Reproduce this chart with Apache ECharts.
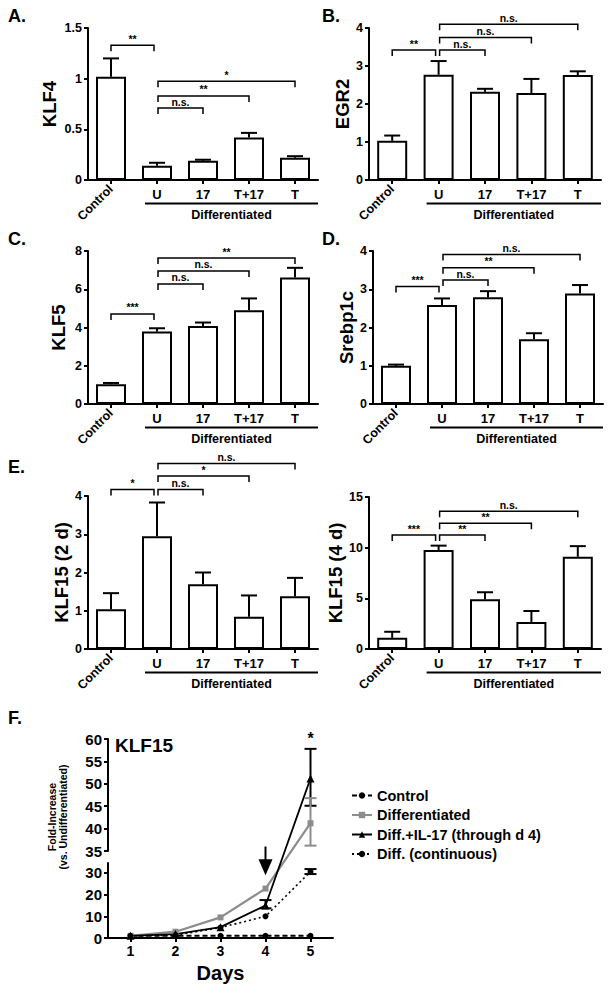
<!DOCTYPE html>
<html><head><meta charset="utf-8">
<script src="https://cdn.jsdelivr.net/npm/echarts@6/dist/echarts.min.js"></script>
<style>html,body{margin:0;padding:0;background:#fff}#c{width:612px;height:994px}</style>
</head><body><div id="c"></div>
<script>
// ---------- DATA ----------
const categories = ['Control', 'U', '17', 'T+17', 'T'];
const klf4Mean = [1.02, 0.14, 0.19, 0.42, 0.22];
const klf4Err  = [1.20, 0.17, 0.20, 0.465, 0.235];
const egr2Mean = [1.03, 2.77, 2.32, 2.29, 2.76];
const egr2Err  = [1.17, 3.13, 2.40, 2.66, 2.86];
const klf5Mean = [1.03, 3.79, 4.08, 4.90, 6.61];
const klf5Err  = [1.10, 3.96, 4.26, 5.52, 7.12];
const srebpMean = [1.00, 2.59, 2.79, 1.69, 2.89];
const srebpErr  = [1.03, 2.76, 2.95, 1.85, 3.11];
const klf15d2Mean = [1.04, 2.95, 1.69, 0.84, 1.38];
const klf15d2Err  = [1.46, 3.83, 2.00, 1.40, 1.86];
const klf15d4Mean = [1.10, 9.77, 4.90, 2.67, 9.10];
const klf15d4Err  = [1.70, 10.20, 5.60, 3.75, 10.15];

// brackets: [fromCat, toCat, y, label]
const klf4Sig = [[0,1,1.33,'**'],[1,2,0.71,'n.s.'],[1,3,0.83,'**'],[1,4,0.975,'*']];
const egr2Sig = [[0,1,3.42,'**'],[1,2,3.42,'n.s.'],[1,3,3.75,'n.s.'],[1,4,4.1,'n.s.']];
const klf5Sig = [[0,1,4.71,'***'],[1,2,6.28,'n.s.'],[1,3,6.96,'n.s.'],[1,4,7.63,'**']];
const srebpSig = [[0,1,3.07,'***'],[1,2,3.24,'n.s.'],[1,3,3.56,'**'],[1,4,3.91,'n.s.']];
const klf15d2Sig = [[0,1,4.17,'*'],[1,2,4.17,'n.s.'],[1,3,4.52,'*'],[1,4,4.85,'n.s.']];
const klf15d4Sig = [[0,1,11.25,'***'],[1,2,11.25,'**'],[1,3,12.4,'**'],[1,4,13.6,'n.s.']];

// Panel F
const fDays = [1, 2, 3, 4, 5];
const fControl = [1, 1, 1, 1, 1];
const fDiff = [1, 2.9, 9.5, 22.8, 41.2];
const fIL17 = [1, 1.8, 5, 15, 51.2];
const fCont = [1, 1.3, 4.8, 10, 30.6];
const fErrBars = [[4, 13.7, 17.5, 'k'], [5, 45.1, 57.8, 'k'], [5, 36.2, 46.8, 'g'], [5, 29.5, 31.8, 'k']];
const fStar = [5, 60.2, '*'];
const fArrow = [4, 36, 29];

// ---------- STYLE / LAYOUT ----------
const FONT = '"Liberation Sans", Arial, sans-serif';
const BLACK = '#000';
const GRAY = '#8c8c8c';

const panels = [
  {letter:'A.', lx:8, ly:7, name:'KLF4', gap:29, left:88, top:28, width:230, height:152, max:1.5, interval:0.5, mean:klf4Mean, err:klf4Err, sig:klf4Sig},
  {letter:'B.', lx:322, ly:7, name:'EGR2', gap:17, left:369, top:28, width:232, height:152, max:4, interval:1, mean:egr2Mean, err:egr2Err, sig:egr2Sig},
  {letter:'C.', lx:8, ly:230, name:'KLF5', gap:20, left:88, top:251, width:230, height:153, max:8, interval:2, mean:klf5Mean, err:klf5Err, sig:klf5Sig},
  {letter:'D.', lx:322, ly:230, name:'Srebp1c', gap:14, left:373, top:251, width:230, height:153, max:4, interval:1, mean:srebpMean, err:srebpErr, sig:srebpSig},
  {letter:'E.', lx:8, ly:458, name:'KLF15 (2 d)', gap:17, left:88, top:496, width:230, height:153, max:4, interval:1, mean:klf15d2Mean, err:klf15d2Err, sig:klf15d2Sig},
  {letter:null, name:'KLF15 (4 d)', gap:17, left:369, top:497, width:232, height:152, max:15, interval:5, mean:klf15d4Mean, err:klf15d4Err, sig:klf15d4Sig}
];

const FL = {left:108, width:225, upTop:739, upH:112, lowTop:863, lowH:75, lowMax:34.6, upMin:35, upMax:60};
const FGAP = FL.lowTop - (FL.upTop + FL.upH);
const FTOTAL = FL.lowH + FGAP + FL.upH;
function brokenY(v) {
  if (v <= FL.lowMax) return v / FL.lowMax * FL.lowH;
  return FL.lowH + FGAP + (v - FL.upMin) / (FL.upMax - FL.upMin) * FL.upH;
}

const grid = [], xAxis = [], yAxis = [], series = [], graphic = [];

const axisLineStyle = {show:true, lineStyle:{color:BLACK, width:2}};
const tickStyle = {show:true, length:4, lineStyle:{color:BLACK, width:2}};

panels.forEach((p, i) => {
  grid.push({left:p.left, top:p.top, width:p.width, height:p.height, containLabel:false});
  const xi = xAxis.length;
  xAxis.push({
    type:'category', gridIndex:i, data:categories, position:'bottom',
    axisLine:axisLineStyle, axisTick:{...tickStyle, alignWithLabel:true},
    axisLabel:{interval:0, margin:8, color:BLACK, fontWeight:'bold', fontSize:13, fontFamily:FONT,
      formatter:(v)=> v === 'Control' ? '' : v}
  });
  xAxis.push({
    type:'category', gridIndex:i, data:categories, position:'bottom',
    axisLine:{show:false}, axisTick:{show:false},
    axisLabel:{interval:0, margin:7, rotate:45, color:BLACK, fontWeight:'bold', fontSize:12.5, fontFamily:FONT,
      formatter:(v)=> v === 'Control' ? v : ''}
  });
  yAxis.push({
    type:'value', gridIndex:i, min:0, max:p.max, interval:p.interval,
    axisLine:axisLineStyle, axisTick:tickStyle, splitLine:{show:false},
    axisLabel:{margin:6, color:BLACK, fontWeight:'bold', fontSize:12.5, fontFamily:FONT},
    name:p.name, nameLocation:'middle', nameRotate:90, nameGap:p.gap,
    nameTextStyle:{color:BLACK, fontWeight:'bold', fontSize:18.5, fontFamily:FONT}
  });
  series.push({
    type:'bar', name:p.name, xAxisIndex:xi, yAxisIndex:i, data:p.mean, barWidth:30,
    itemStyle:{color:'#fff', borderColor:BLACK, borderWidth:2}, z:2, silent:true
  });
  series.push({
    type:'custom', xAxisIndex:xi, yAxisIndex:i, z:3, silent:true,
    data:p.err.map((e, j) => [j, p.mean[j], e]),
    renderItem:(params, api) => {
      const x = api.value(0);
      const p0 = api.coord([x, api.value(1)]), p1 = api.coord([x, api.value(2)]);
      return {type:'group', children:[
        {type:'line', shape:{x1:p0[0], y1:p0[1], x2:p1[0], y2:p1[1]}, style:{stroke:BLACK, lineWidth:2}},
        {type:'line', shape:{x1:p1[0]-8, y1:p1[1], x2:p1[0]+8, y2:p1[1]}, style:{stroke:BLACK, lineWidth:2}}
      ]};
    }
  });
  const sig = p.sig;
  series.push({
    type:'custom', xAxisIndex:xi, yAxisIndex:i, z:4, silent:true, clip:false,
    data:sig.map(b => [b[0], b[2]]),
    renderItem:(params, api) => {
      const b = sig[params.dataIndex];
      const a = api.coord([b[0], b[2]]), c = api.coord([b[1], b[2]]);
      const x1 = a[0] + (b[0] === 1 ? 1 : 0), x2 = c[0] - (b[1] === 1 ? 3 : 0), y = a[1];
      return {type:'group', children:[
        {type:'polyline', shape:{points:[[x1, y+6], [x1, y], [x2, y], [x2, y+6]]}, style:{stroke:BLACK, lineWidth:1.5, fill:'none'}},
        {type:'text', x:(x1+x2)/2, y:y-1, style:{text:b[3], fill:BLACK, font:'bold 10.5px ' + FONT, align:'center', verticalAlign:'bottom'}}
      ]};
    }
  });
  series.push({
    type:'custom', xAxisIndex:xi, yAxisIndex:i, z:4, silent:true, clip:false,
    data:[[1, 0]],
    renderItem:(params, api) => {
      const u = api.coord([1, 0]), t = api.coord([categories.length - 1, 0]);
      const band = api.size([1, 0])[0];
      const y = u[1] + 23.5, x1 = u[0] - 12, x2 = t[0] + band / 2;
      return {type:'group', children:[
        {type:'line', shape:{x1:x1, y1:y, x2:x2, y2:y}, style:{stroke:BLACK, lineWidth:2}},
        {type:'text', x:(x1+x2)/2, y:y+11, style:{text:'Differentiated', fill:BLACK, font:'bold 12.5px ' + FONT, align:'center', verticalAlign:'middle'}}
      ]};
    }
  });
  if (p.letter) graphic.push({type:'text', x:p.lx, y:p.ly, style:{text:p.letter, fill:BLACK, font:'bold 18px ' + FONT, verticalAlign:'top'}});
});

// ---------- Panel F ----------
const gUp = grid.length;
grid.push({left:FL.left, top:FL.upTop, width:FL.width, height:FL.upH});
const gLow = grid.length;
grid.push({left:FL.left, top:FL.lowTop, width:FL.width, height:FL.lowH});
const gLine = grid.length;
grid.push({left:FL.left, top:FL.upTop, width:FL.width, height:FTOTAL});

xAxis.push({type:'value', gridIndex:gUp, min:0.5, max:5.5, show:false});
xAxis.push({type:'value', gridIndex:gLow, min:0.5, max:5.5,
  axisLine:axisLineStyle, axisTick:{...tickStyle, customValues:fDays}, splitLine:{show:false},
  axisLabel:{customValues:fDays, margin:6, color:BLACK, fontWeight:'bold', fontSize:14, fontFamily:FONT},
  name:'Days', nameLocation:'middle', nameGap:25,
  nameTextStyle:{color:BLACK, fontWeight:'bold', fontSize:20, fontFamily:FONT, verticalAlign:'top'}});
const xLine = xAxis.length;
xAxis.push({type:'value', gridIndex:gLine, min:0.5, max:5.5, show:false});

yAxis.push({type:'value', gridIndex:gUp, min:FL.upMin, max:FL.upMax, interval:5,
  axisLine:axisLineStyle, axisTick:tickStyle, splitLine:{show:false},
  axisLabel:{margin:6, color:BLACK, fontWeight:'bold', fontSize:15, fontFamily:FONT}});
yAxis.push({type:'value', gridIndex:gLow, min:0, max:FL.lowMax, interval:10,
  axisLine:axisLineStyle, axisTick:tickStyle, splitLine:{show:false},
  axisLabel:{margin:6, showMaxLabel:false, color:BLACK, fontWeight:'bold', fontSize:15, fontFamily:FONT}});
const yLine = yAxis.length;
yAxis.push({type:'value', gridIndex:gLine, min:0, max:FTOTAL, show:false});

function fSeries(name, vals, color, lineType, lineWidth, symbol, size) {
  return {type:'line', name:name, xAxisIndex:xLine, yAxisIndex:yLine, z:5, silent:true,
    data:fDays.map((d, k) => [d, brokenY(vals[k])]),
    symbol:symbol, symbolSize:size, clip:false,
    lineStyle:{color:color, type:lineType, width:lineWidth},
    itemStyle:{color:color, borderWidth:0}};
}
series.push(fSeries('Control', fControl, BLACK, [5, 3], 2, 'circle', 6));
series.push(fSeries('Differentiated', fDiff, GRAY, 'solid', 2.2, 'rect', 6));
series.push(fSeries('Diff.+IL-17 (through d 4)', fIL17, BLACK, 'solid', 1.8, 'triangle', 8));
series.push(fSeries('Diff. (continuous)', fCont, BLACK, [2, 3], 1.6, 'circle', 6));

series.push({type:'custom', xAxisIndex:xLine, yAxisIndex:yLine, z:6, silent:true, clip:false,
  data:fErrBars.map(e => [e[0], brokenY(e[1]), brokenY(e[2])]),
  renderItem:(params, api) => {
    const col = fErrBars[params.dataIndex][3] === 'g' ? GRAY : BLACK;
    const x = api.value(0);
    const lo = api.coord([x, api.value(1)]), hi = api.coord([x, api.value(2)]);
    return {type:'group', children:[
      {type:'line', shape:{x1:lo[0], y1:lo[1], x2:hi[0], y2:hi[1]}, style:{stroke:col, lineWidth:2}},
      {type:'line', shape:{x1:lo[0]-6, y1:lo[1], x2:lo[0]+6, y2:lo[1]}, style:{stroke:col, lineWidth:2}},
      {type:'line', shape:{x1:hi[0]-6, y1:hi[1], x2:hi[0]+6, y2:hi[1]}, style:{stroke:col, lineWidth:2}}
    ]};
  }});

series.push({type:'custom', xAxisIndex:xLine, yAxisIndex:yLine, z:7, silent:true, clip:false,
  data:[[fArrow[0], brokenY(fArrow[1])]],
  renderItem:(params, api) => {
    const top = api.coord([fArrow[0], brokenY(fArrow[1])]);
    const tip = api.coord([fArrow[0], brokenY(fArrow[2])]);
    const star = api.coord([fStar[0], brokenY(fStar[1])]);
    return {type:'group', children:[
      {type:'line', shape:{x1:top[0], y1:top[1], x2:tip[0], y2:tip[1]-14}, style:{stroke:BLACK, lineWidth:2}},
      {type:'polygon', shape:{points:[[tip[0]-7, tip[1]-16], [tip[0]+7, tip[1]-16], [tip[0], tip[1]]]}, style:{fill:BLACK}},
      {type:'text', x:star[0], y:star[1], style:{text:fStar[2], fill:BLACK, font:'bold 16px ' + FONT, align:'center', verticalAlign:'middle'}}
    ]};
  }});

graphic.push({type:'text', x:8, y:709, style:{text:'F.', fill:BLACK, font:'bold 18px ' + FONT, verticalAlign:'top'}});
graphic.push({type:'text', x:115, y:736, style:{text:'KLF15', fill:BLACK, font:'bold 19px ' + FONT, verticalAlign:'top'}});
graphic.push({type:'text', x:57, y:817, rotation:Math.PI/2,
  style:{text:'Fold-Increase\n(vs. Undifferentiated)', fill:BLACK, font:'bold 10.5px ' + FONT, lineHeight:11, align:'center', verticalAlign:'middle'}});

const chart = echarts.init(document.getElementById('c'), null, {renderer:'svg'});
chart.setOption({
  animation:false,
  backgroundColor:'#fff',
  grid, xAxis, yAxis, series, graphic,
  legend:{orient:'vertical', left:346, top:783, itemWidth:20, itemHeight:8, itemGap:4.5,
    data:['Control', 'Differentiated', 'Diff.+IL-17 (through d 4)', 'Diff. (continuous)'],
    textStyle:{color:BLACK, fontWeight:'bold', fontSize:14.5, fontFamily:FONT, lineHeight:15}}
});
</script></body></html>
